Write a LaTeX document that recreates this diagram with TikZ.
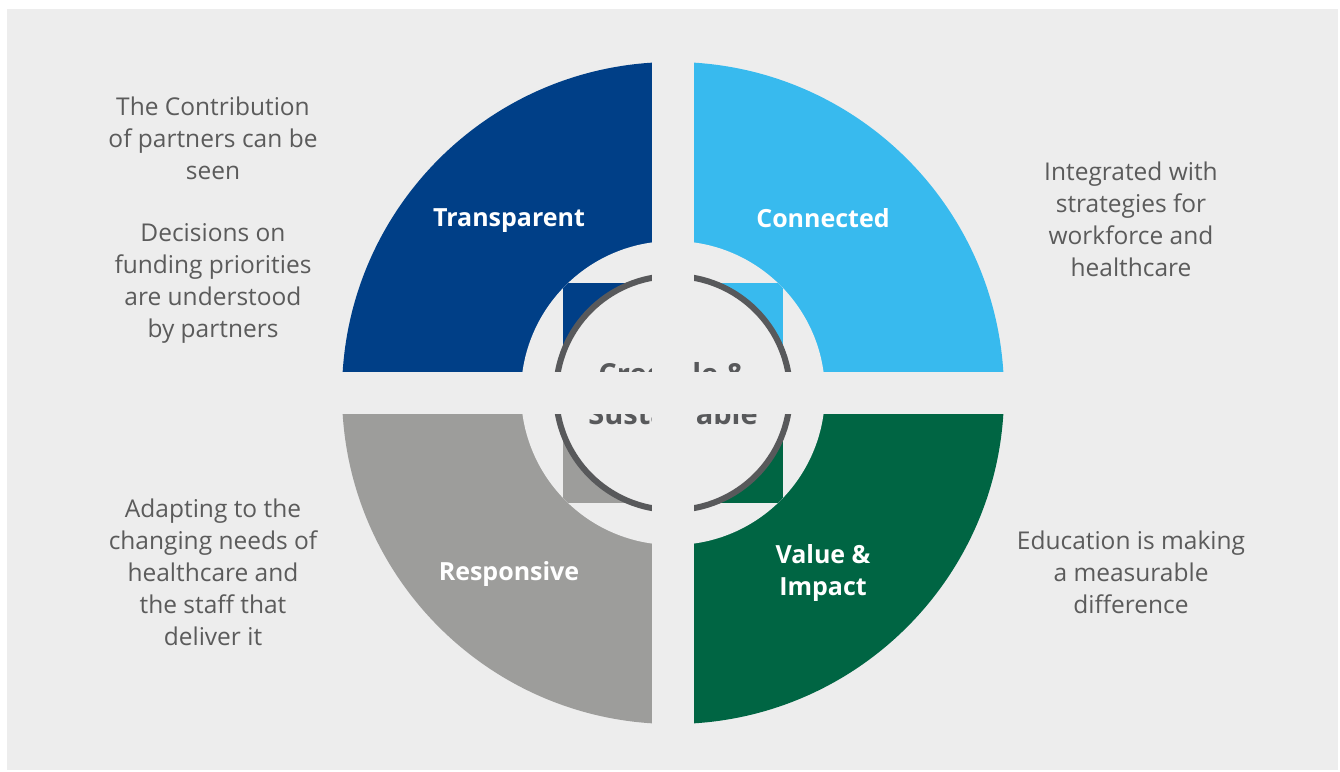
\documentclass[tikz,border=0pt]{standalone}
\usepackage{fontspec}
\setmainfont{Open Sans}
\definecolor{bg}{HTML}{EDEDED}
\definecolor{dblue}{HTML}{003F87}
\definecolor{lblue}{HTML}{38BAEE}
\definecolor{qgray}{HTML}{9D9D9B}
\definecolor{qgreen}{HTML}{006543}
\definecolor{ringc}{HTML}{58595B}
\definecolor{txt}{HTML}{5B5B5B}
\tikzset{
  side/.style={align=center, text=txt, font=\fontsize{24.5}{32}\selectfont, inner sep=0pt},
  qlabel/.style={align=center, text=white, font=\fontsize{25}{32}\selectfont\bfseries, inner sep=0pt},
  clabel/.style={align=center, text=ringc, font=\fontsize{29}{40}\selectfont\bfseries, inner sep=0pt},
}
\begin{document}
\begin{tikzpicture}[x=1pt,y=1pt]
\useasboundingbox (0,0) rectangle (1340,771);
\fill[white] (0,0) rectangle (1340,771);
\fill[bg] (7,1) rectangle (1338,762);
\coordinate (C) at (673,378);
% quadrants
\fill[dblue] (C) -- ++(0,331) arc[start angle=90,end angle=180,radius=331] -- cycle;
\fill[lblue] (C) -- ++(331,0) arc[start angle=0,end angle=90,radius=331] -- cycle;
\fill[qgray] (C) -- ++(-331,0) arc[start angle=180,end angle=270,radius=331] -- cycle;
\fill[qgreen] (C) -- ++(0,-331) arc[start angle=270,end angle=360,radius=331] -- cycle;
\fill[bg] (C) circle[radius=152];
\begin{scope}
\clip (C) circle[radius=152];
\fill[dblue] (C) rectangle ++(-110,110);
\fill[lblue] (C) rectangle ++(110,110);
\fill[qgray] (C) rectangle ++(-110,-110);
\fill[qgreen] (C) rectangle ++(110,-110);
\end{scope}
\fill[bg] (C) circle[radius=117];
\draw[ringc, line width=6] (C) circle[radius=117];
\node[clabel] (core) at (673,377) {Credible \&\\Sustainable};
% cross gap
\fill[bg] (652,40) rectangle (694,716);
\fill[bg] (335,357) rectangle (1011,399);
% quadrant labels
\node[qlabel] (tr) at (509,550) {Transparent};
\node[qlabel] (co) at (823,553) {Connected};
\node[qlabel] (re) at (509,197) {Responsive};
\node[qlabel] (vi) at (823,198) {Value \&\\Impact};
% side texts
\node[side] (s1) at (213,633) {The Contribution\\of partners can be\\seen};
\node[side] (s2) at (213,488) {Decisions on\\funding priorities\\are understood\\by partners};
\node[side] (s3) at (1131,552) {Integrated with\\strategies for\\workforce and\\healthcare};
\node[side] (s4) at (213,199) {Adapting to the\\changing needs of\\healthcare and\\the staff that\\deliver it};
\node[side] (s5) at (1131,199) {Education is making\\a measurable\\difference};
\end{tikzpicture}
\end{document}
